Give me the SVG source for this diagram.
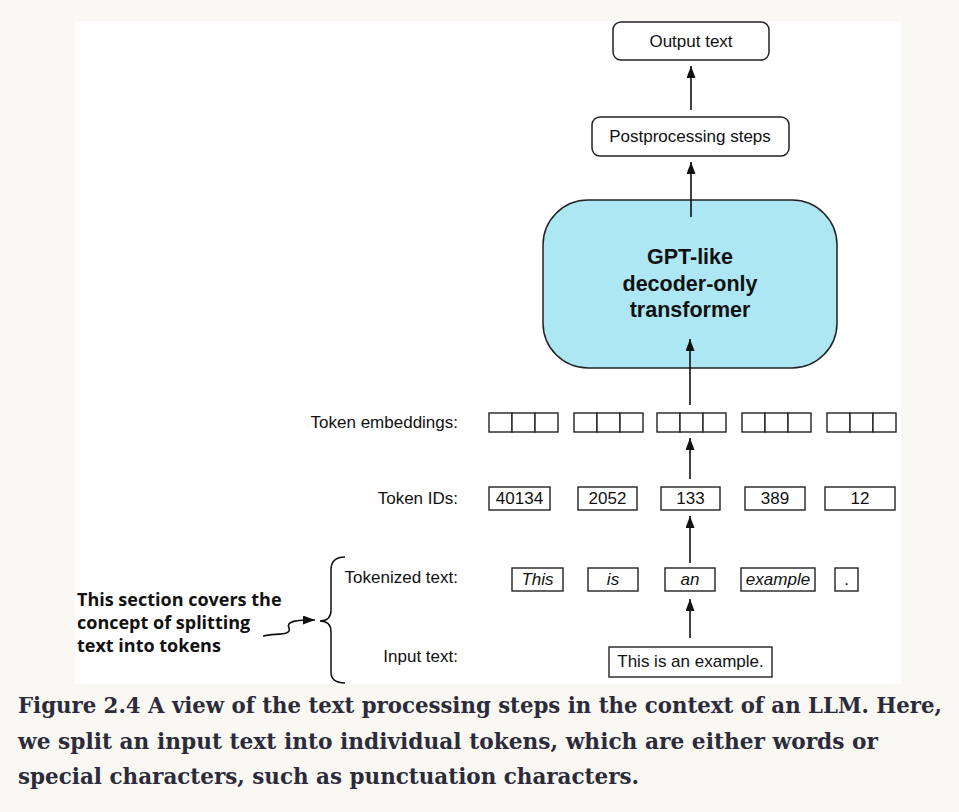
<svg xmlns="http://www.w3.org/2000/svg" width="959" height="812" viewBox="0 0 959 812">
<defs>
<marker id="ah" markerUnits="userSpaceOnUse" markerWidth="12" markerHeight="9" refX="12" refY="4.5" orient="auto">
<path d="M0,0 L12,4.5 L0,9 z" fill="#111"/>
</marker>
<style>
.lbl{font-family:"Liberation Sans",Arial,sans-serif;font-size:17px;fill:#111}
.box{fill:#fff;stroke:#222;stroke-width:1.5}
.sq{fill:#fff;stroke:#222;stroke-width:1.4}
.it{font-style:italic}
.bt{font-weight:bold;font-size:21.5px}
.arr{stroke:#111;stroke-width:1.6;fill:none;marker-end:url(#ah)}
.cap{font-family:"DejaVu Serif Condensed","DejaVu Serif","Liberation Serif",serif;font-stretch:condensed;font-weight:bold;font-size:22.5px;fill:#2c2b3b}
.ann{font-family:"Open Sans","Lato","Liberation Sans",sans-serif;font-weight:bold;font-size:18px;fill:#111}
</style>
</defs>
<rect x="0" y="0" width="959" height="812" fill="#faf8f3"/>
<rect x="75" y="21" width="826" height="663" fill="#fff"/>

<g id="output-text"><rect class="box" x="613" y="22" width="156" height="38" rx="8"/><text class="lbl" x="691" y="47" text-anchor="middle">Output text</text></g>
<g id="postprocessing"><rect class="box" x="592" y="117" width="197" height="39" rx="8"/><text class="lbl" x="690" y="142" text-anchor="middle">Postprocessing steps</text></g>
<g id="transformer"><rect x="543" y="200" width="294" height="168" rx="45" fill="#ade7f4" stroke="#222" stroke-width="1.5"/>
<text class="lbl bt" x="690" y="264" text-anchor="middle">GPT-like</text>
<text class="lbl bt" x="690" y="291" text-anchor="middle">decoder-only</text>
<text class="lbl bt" x="690" y="317" text-anchor="middle">transformer</text></g>

<g id="labels">
<text class="lbl" x="458" y="428" text-anchor="end">Token embeddings:</text>
<text class="lbl" x="458" y="504" text-anchor="end">Token IDs:</text>
<text class="lbl" x="458" y="583" text-anchor="end">Tokenized text:</text>
<text class="lbl" x="458" y="662" text-anchor="end">Input text:</text>
</g>

<g id="embeddings">
<rect class="sq" x="489" y="413" width="23" height="19"/><rect class="sq" x="512" y="413" width="23" height="19"/><rect class="sq" x="535" y="413" width="23" height="19"/>
<rect class="sq" x="574" y="413" width="23" height="19"/><rect class="sq" x="597" y="413" width="23" height="19"/><rect class="sq" x="620" y="413" width="23" height="19"/>
<rect class="sq" x="657" y="413" width="23" height="19"/><rect class="sq" x="680" y="413" width="23" height="19"/><rect class="sq" x="703" y="413" width="23" height="19"/>
<rect class="sq" x="742" y="413" width="23" height="19"/><rect class="sq" x="765" y="413" width="23" height="19"/><rect class="sq" x="788" y="413" width="23" height="19"/>
<rect class="sq" x="827" y="413" width="23" height="19"/><rect class="sq" x="850" y="413" width="23" height="19"/><rect class="sq" x="873" y="413" width="23" height="19"/>
</g>

<g id="token-ids">
<rect class="sq" x="489" y="487" width="61" height="23"/><text class="lbl" x="519.5" y="504" text-anchor="middle">40134</text>
<rect class="sq" x="578" y="487" width="59" height="23"/><text class="lbl" x="607.5" y="504" text-anchor="middle">2052</text>
<rect class="sq" x="661" y="487" width="59" height="23"/><text class="lbl" x="690.5" y="504" text-anchor="middle">133</text>
<rect class="sq" x="745" y="487" width="60" height="23"/><text class="lbl" x="775" y="504" text-anchor="middle">389</text>
<rect class="sq" x="825" y="487" width="70" height="23"/><text class="lbl" x="860" y="504" text-anchor="middle">12</text>
</g>

<g id="tokenized">
<rect class="sq" x="512" y="568" width="51" height="23"/><text class="lbl it" x="537.5" y="585" text-anchor="middle">This</text>
<rect class="sq" x="588" y="568" width="50" height="23"/><text class="lbl it" x="613" y="585" text-anchor="middle">is</text>
<rect class="sq" x="665" y="568" width="50" height="23"/><text class="lbl it" x="690" y="585" text-anchor="middle">an</text>
<rect class="sq" x="741" y="568" width="74" height="23"/><text class="lbl it" x="778" y="585" text-anchor="middle">example</text>
<rect class="sq" x="835" y="568" width="23" height="23"/><text class="lbl" x="846.5" y="585" text-anchor="middle">.</text>
</g>

<g id="input-text"><rect class="sq" x="609" y="647" width="163" height="30"/><text class="lbl" x="690.5" y="667" text-anchor="middle">This is an example.</text></g>

<g id="connectors">
<line class="arr" x1="691" y1="110" x2="691" y2="66"/>
<line class="arr" x1="691" y1="217" x2="691" y2="162"/>
<line class="arr" x1="690" y1="405" x2="690" y2="339"/>
<line class="arr" x1="690" y1="479" x2="690" y2="438"/>
<line class="arr" x1="690" y1="563" x2="690" y2="516"/>
<line class="arr" x1="690" y1="638" x2="690" y2="599"/>
<path d="M345,557 C336,557 331,561 331,570 L331,610 C331,617 327,621 320,621 C327,621 331,625 331,632 L331,672 C331,680 336,683 345,683" fill="none" stroke="#111" stroke-width="1.5"/>
<path class="arr" d="M263,636 C275,633 292,636 289,628 C286,621 296,620 315,620"/>
</g>

<g id="annotation">
<text class="ann" x="77" y="606">This section covers the</text>
<text class="ann" x="77" y="629">concept of splitting</text>
<text class="ann" x="77" y="652">text into tokens</text>
</g>

<g id="caption">
<text class="cap" x="18" y="713" textLength="924" lengthAdjust="spacingAndGlyphs">Figure 2.4 A view of the text processing steps in the context of an LLM. Here,</text>
<text class="cap" x="18" y="749" textLength="860" lengthAdjust="spacingAndGlyphs">we split an input text into individual tokens, which are either words or</text>
<text class="cap" x="18" y="784" textLength="621" lengthAdjust="spacingAndGlyphs">special characters, such as punctuation characters.</text>
</g>
</svg>
